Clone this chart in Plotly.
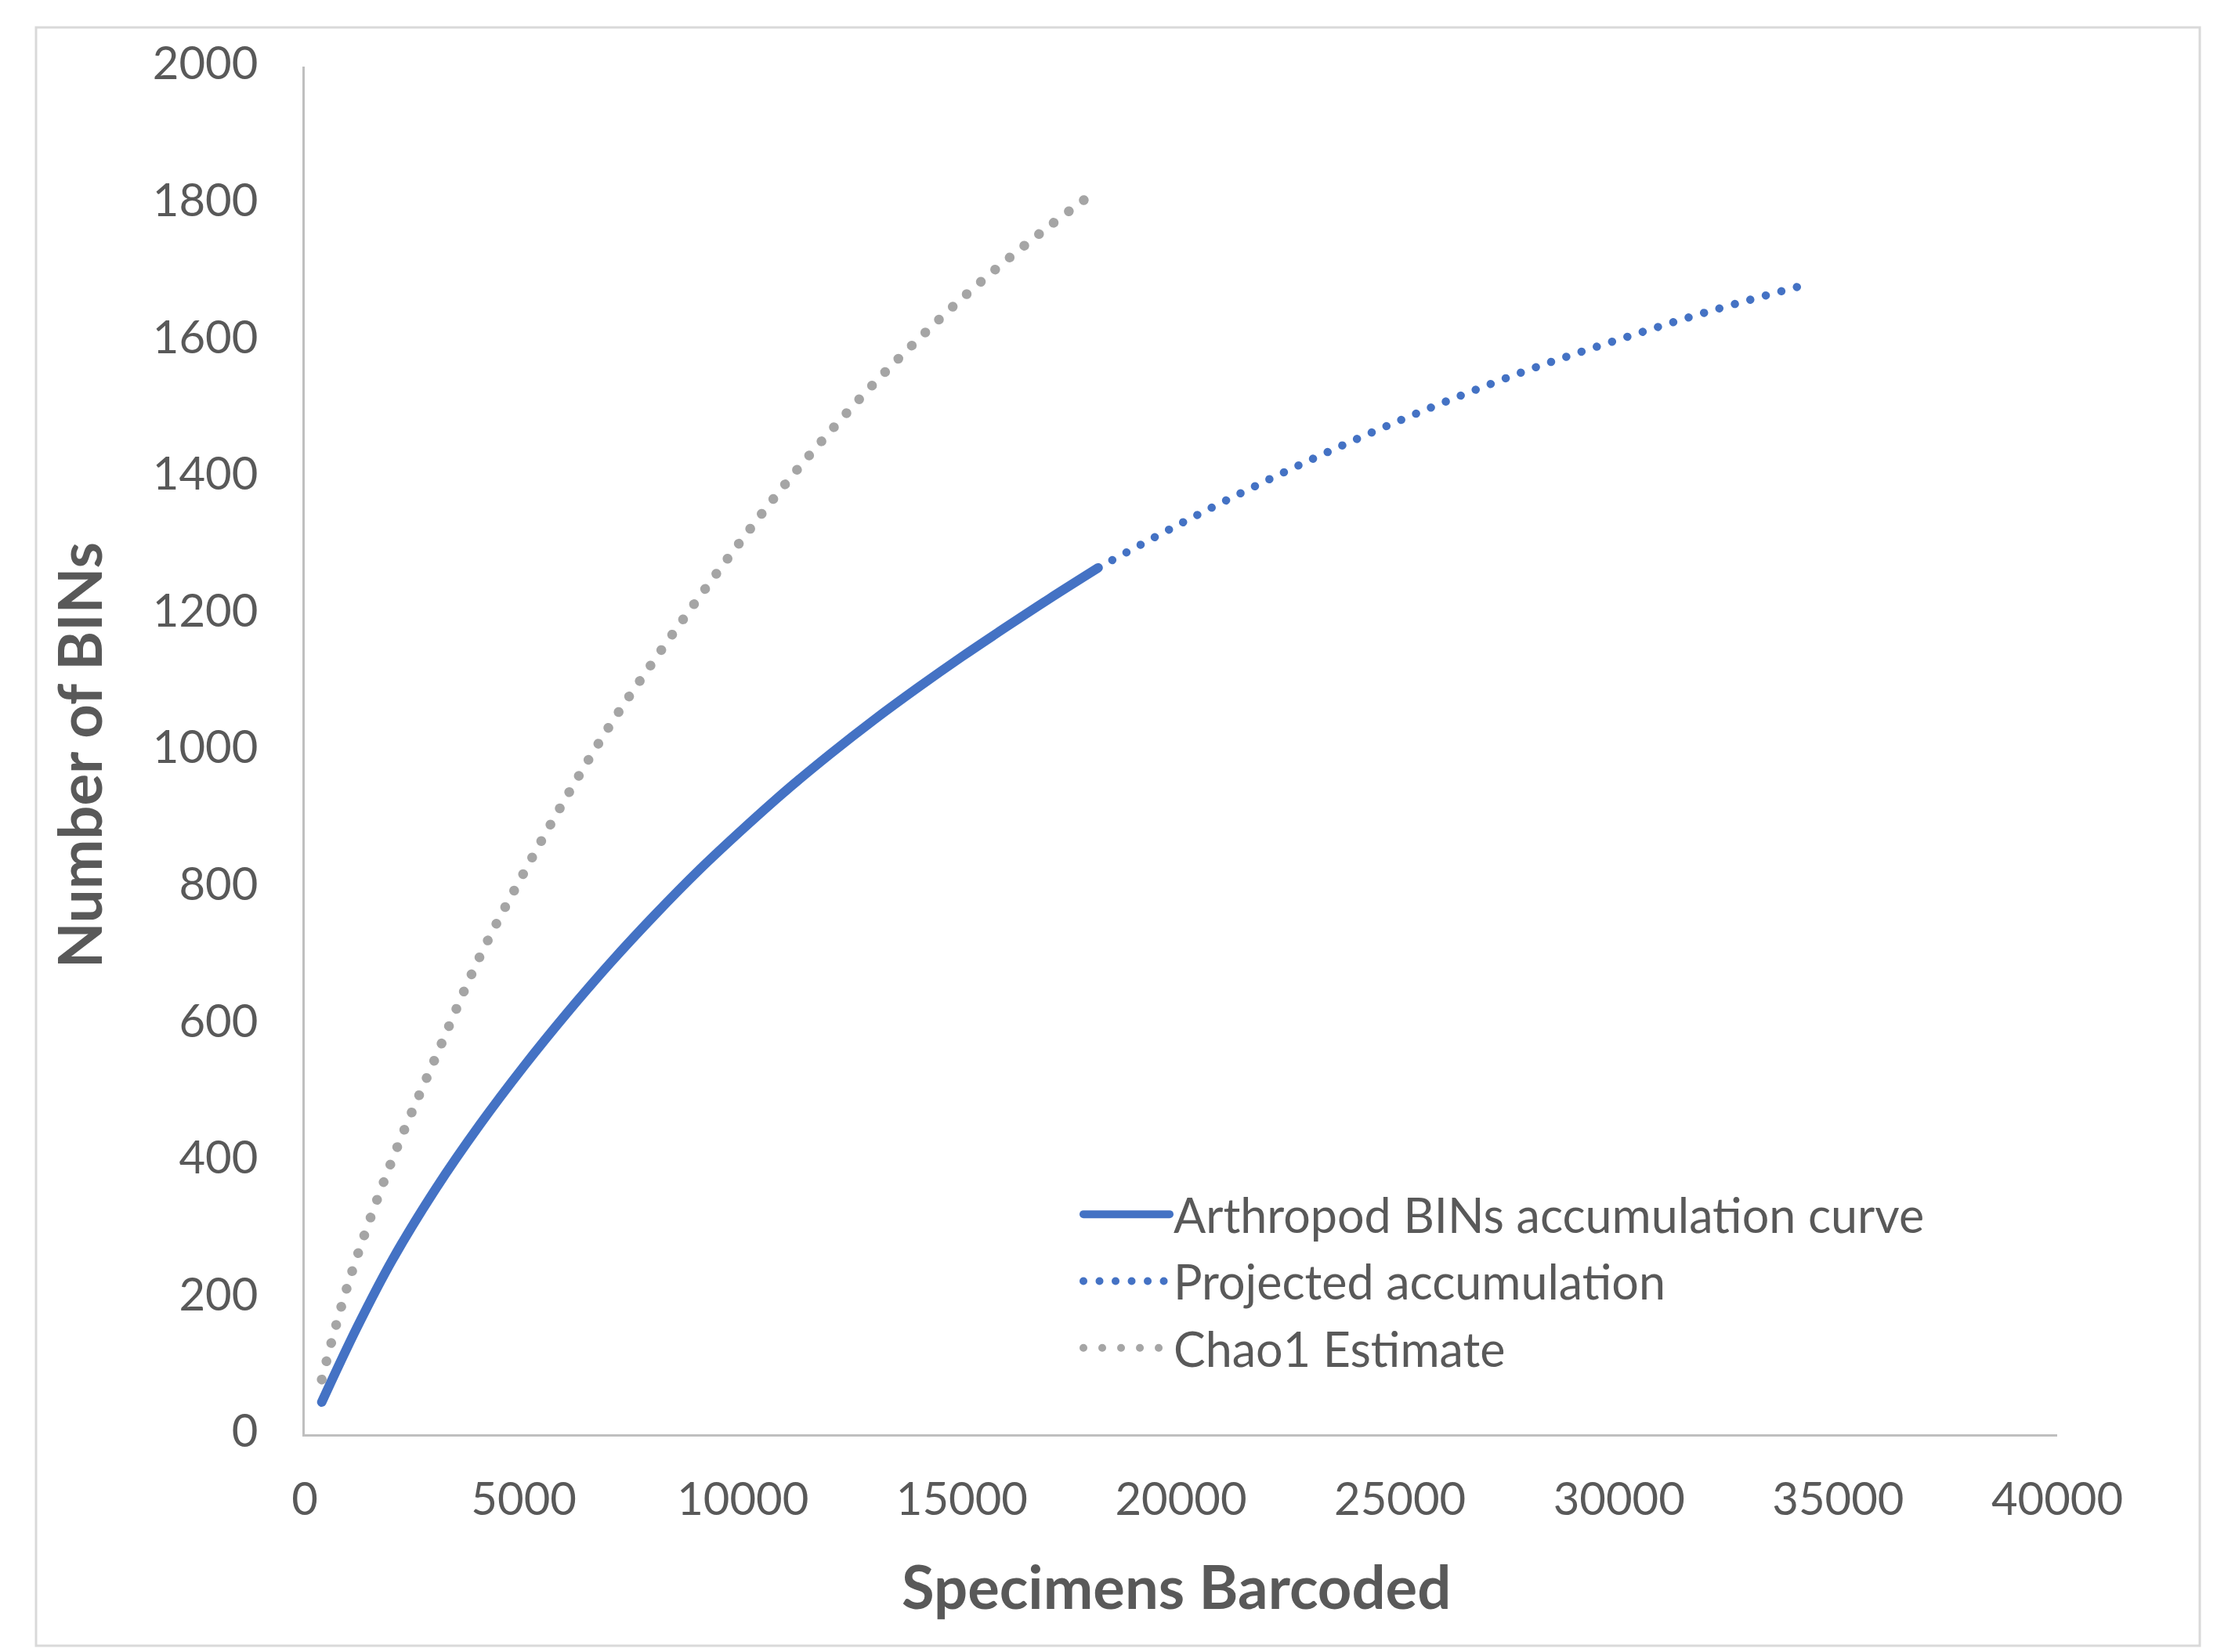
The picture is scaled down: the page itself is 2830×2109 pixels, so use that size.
import plotly.graph_objects as go

# ---- data ----
specimens_observed = [388, 1200, 2000, 3000, 4000, 5000, 6000, 7000, 8000, 9000,
                      10000, 11000, 12000, 13000, 14000, 15000, 16000, 17000, 18110]
bins_observed = [47, 157, 255, 360, 453, 538, 617, 691, 760, 825,
                 885, 942, 995, 1045, 1092, 1137, 1180, 1222, 1267]

specimens_projected = [18110, 20000, 22000, 24000, 26000, 28000, 30000, 32000, 34080]
bins_projected = [1267, 1332, 1396, 1455, 1509, 1558, 1601, 1641, 1678]

specimens_chao1 = [388, 1000, 2000, 3000, 4000, 5000, 6000, 7000, 8000, 9000, 10000,
                   11000, 12000, 13000, 14000, 15000, 16000, 17000, 18040]
bins_chao1 = [80, 222, 402, 553, 699, 821, 935, 1040, 1134, 1224, 1310,
              1392, 1467, 1537, 1601, 1661, 1716, 1767, 1817]

series_names = ["Arthropod BINs accumulation curve", "Projected accumulation", "Chao1 Estimate"]
x_ticks = [0, 5000, 10000, 15000, 20000, 25000, 30000, 35000, 40000]
y_ticks = [0, 200, 400, 600, 800, 1000, 1200, 1400, 1600, 1800, 2000]
x_title = "Specimens Barcoded"
y_title = "Number of BINs"

BLUE = "#4472C4"
GRAY = "#A5A5A5"
TEXT = "#595959"
FONT = "Lato"

fig = go.Figure()
fig.add_trace(go.Scatter(x=specimens_observed, y=bins_observed, mode="lines", name=series_names[0],
                         legendgroup="a",
                         line=dict(color=BLUE, width=12, shape="spline", smoothing=1.0)))
fig.add_trace(go.Scatter(x=specimens_projected, y=bins_projected, mode="lines", name=series_names[1],
                         legendgroup="b",
                         line=dict(color=BLUE, width=10.5, dash="10px,10.5px", shape="spline", smoothing=1.0)))
fig.add_trace(go.Scatter(x=specimens_chao1, y=bins_chao1, mode="lines", name=series_names[2],
                         legendgroup="c",
                         line=dict(color=GRAY, width=12.5, dash="12px,12px", shape="spline", smoothing=1.0)))

axis_common = dict(showgrid=False, zeroline=False, showline=True, linecolor="#BFBFBF", linewidth=3,
                   ticks="", tickfont=dict(family=FONT, size=58, color=TEXT), tickformat="d")

fig.update_xaxes(range=[0, 40000], tickvals=x_ticks, ticklabelstandoff=30, **axis_common)
fig.update_yaxes(range=[0, 2000], tickvals=y_ticks, ticklabelstandoff=45, ticklabelshift=-4, **axis_common)

L, R, T, B = 381, 212, 77, 286
W, H = 2830, 2109
pw = W - L - R
ph = H - T - B

def px_x(px):
    return (px - L) / pw

def px_y(py):
    return (H - B - py) / ph

fig.update_layout(
    width=W, height=H,
    margin=dict(l=L, r=R, t=T, b=B, autoexpand=False),
    paper_bgcolor="white", plot_bgcolor="white",
    font=dict(family=FONT, color=TEXT, size=58),
    showlegend=True,
    legend=dict(x=px_x(1370), y=px_y(1496), xanchor="left", yanchor="top",
                bgcolor="rgba(0,0,0,0)", borderwidth=0, itemwidth=110,
                traceorder="grouped", tracegroupgap=3,
                font=dict(family=FONT, size=61, color=TEXT)),
    shapes=[dict(type="rect", xref="paper", yref="paper",
                 x0=px_x(38), x1=px_x(2800), y0=px_y(2093), y1=px_y(27),
                 line=dict(color="#D9D9D9", width=3), fillcolor="rgba(0,0,0,0)", layer="below")],
    annotations=[
        dict(text="<b>" + x_title + "</b>", xref="paper", yref="paper", x=px_x(1493), y=px_y(2016),
             xanchor="center", yanchor="middle", showarrow=False,
             font=dict(family=FONT, size=76, color=TEXT)),
        dict(text="<b>" + y_title + "</b>", xref="paper", yref="paper", x=px_x(92), y=px_y(956),
             xanchor="center", yanchor="middle", showarrow=False, textangle=-90,
             font=dict(family=FONT, size=76, color=TEXT)),
    ],
)

post_js = """
function fixDots(){
  document.querySelectorAll('.js-plotly-plot path.js-line').forEach(function(p){
    p.style.strokeLinecap = 'round';
    var d = p.style.strokeDasharray;
    if (d && d !== 'none') {
      var parts = d.split(',').map(function(s){ return parseFloat(s); });
      if (parts.length >= 2 && parts[0] >= 1) {
        var period = parts[0] + parts[1];
        p.style.strokeDasharray = '0.01px,' + period + 'px';
      }
    }
  });
}
fixDots();
var gd = document.getElementById('{plot_id}');
if (gd && gd.on) { gd.on('plotly_afterplot', fixDots); }
"""

fig.write_html("out.html", post_script=post_js)
